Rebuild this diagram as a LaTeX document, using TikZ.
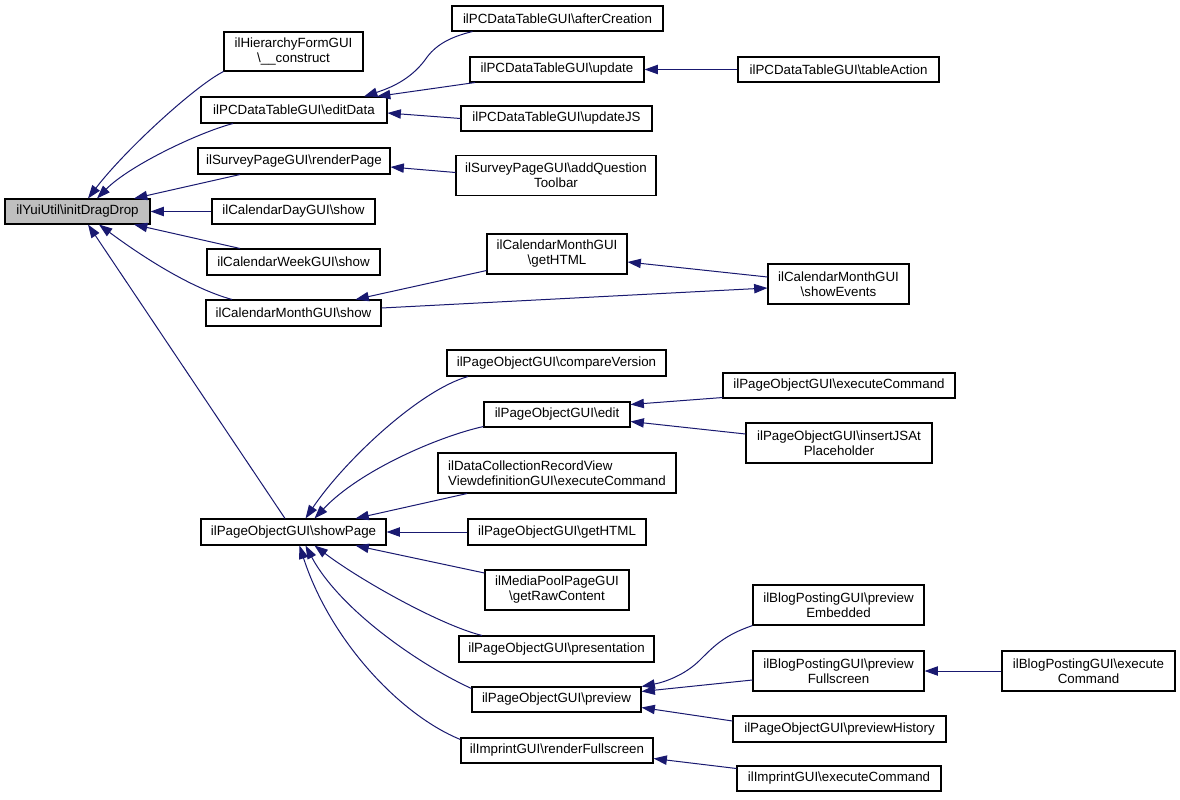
\documentclass[tikz,border=0pt]{standalone}
\usepackage{fontspec}
\setmainfont{Liberation Sans}
\usetikzlibrary{arrows.meta,calc}
\definecolor{edgec}{HTML}{191970}
\definecolor{rootfill}{HTML}{BFBFBF}
\begin{document}
\begin{tikzpicture}[x=0.75pt,y=-0.75pt,
  nbox/.style={draw=black, line width=0.8pt, fill=white, inner sep=0pt, align=center,
    font=\fontsize{10}{11.25}\selectfont},
  bw/.style={minimum width=#1*0.75pt},
  bh/.style={minimum height=#1*0.75pt},
  link/.style={draw=edgec, line width=0.75pt, -{Triangle[length=10pt,width=7pt]}}]
\fill[white] (0,0) rectangle (1180,799);
\useasboundingbox (0,0) rectangle (1180,799);

% column 0
\node[nbox,fill=rootfill,bw=145,bh=25] (root) at (77.5,211.5) {ilYuiUtil\textbackslash initDragDrop};
% column 1
\node[nbox,bw=139,bh=39] (hier) at (293.5,51.5) {ilHierarchyFormGUI\\\textbackslash\_\_construct};
\node[nbox,bw=186,bh=26] (editData) at (294,110) {ilPCDataTableGUI\textbackslash editData};
\node[nbox,bw=192,bh=26] (renderPage) at (294,161) {ilSurveyPageGUI\textbackslash renderPage};
\node[nbox,bw=163,bh=25] (calDay) at (293.5,211.5) {ilCalendarDayGUI\textbackslash show};
\node[nbox,bw=173,bh=26] (calWeek) at (293.5,262) {ilCalendarWeekGUI\textbackslash show};
\node[nbox,bw=175,bh=26] (calMonth) at (293.5,313) {ilCalendarMonthGUI\textbackslash show};
\node[nbox,bw=185,bh=26] (showPage) at (293.5,532) {ilPageObjectGUI\textbackslash showPage};
% column 2
\node[nbox,bw=211,bh=25] (afterCreation) at (557.5,18.5) {ilPCDataTableGUI\textbackslash afterCreation};
\node[nbox,bw=174,bh=25] (update) at (557,69.5) {ilPCDataTableGUI\textbackslash update};
\node[nbox,bw=191,bh=25] (updateJS) at (556.5,118.5) {ilPCDataTableGUI\textbackslash updateJS};
\node[nbox,bw=200,bh=40] (addQuestion) at (556,175.5) {ilSurveyPageGUI\textbackslash addQuestion\\Toolbar};
\node[nbox,bw=140,bh=40] (monthGetHTML) at (557,254) {ilCalendarMonthGUI\\\textbackslash getHTML};
\node[nbox,bw=219,bh=26] (compareVersion) at (556.5,363) {ilPageObjectGUI\textbackslash compareVersion};
\node[nbox,bw=146,bh=25] (edit) at (557,414.5) {ilPageObjectGUI\textbackslash edit};
\node[nbox,bw=238,bh=40,align=left] (dataColl) at (557,473) {ilDataCollectionRecordView\\ViewdefinitionGUI\textbackslash executeCommand};
\node[nbox,bw=178,bh=26] (getHTML) at (557,532) {ilPageObjectGUI\textbackslash getHTML};
\node[nbox,bw=144,bh=40] (mediaPool) at (557,590) {ilMediaPoolPageGUI\\\textbackslash getRawContent};
\node[nbox,bw=195,bh=26] (presentation) at (556.5,649) {ilPageObjectGUI\textbackslash presentation};
\node[nbox,bw=169,bh=25] (preview) at (556.5,699.5) {ilPageObjectGUI\textbackslash preview};
\node[nbox,bw=192,bh=25] (renderFull) at (557,750.5) {ilImprintGUI\textbackslash renderFullscreen};
% column 3
\node[nbox,bw=201,bh=25] (tableAction) at (838.5,69.5) {ilPCDataTableGUI\textbackslash tableAction};
\node[nbox,bw=141,bh=40] (showEvents) at (838.5,284) {ilCalendarMonthGUI\\\textbackslash showEvents};
\node[nbox,bw=232,bh=25] (pageExec) at (839,385.5) {ilPageObjectGUI\textbackslash executeCommand};
\node[nbox,bw=186,bh=40] (insertJS) at (839,443) {ilPageObjectGUI\textbackslash insertJSAt\\Placeholder};
\node[nbox,bw=171,bh=40] (prevEmb) at (838.5,605) {ilBlogPostingGUI\textbackslash preview\\Embedded};
\node[nbox,bw=171,bh=40] (prevFull) at (838.5,671) {ilBlogPostingGUI\textbackslash preview\\Fullscreen};
\node[nbox,bw=213,bh=26] (prevHist) at (839.5,729) {ilPageObjectGUI\textbackslash previewHistory};
\node[nbox,bw=204,bh=25] (imprintExec) at (839,778.5) {ilImprintGUI\textbackslash executeCommand};
% column 4
\node[nbox,bw=173,bh=40] (blogExec) at (1088.5,671) {ilBlogPostingGUI\textbackslash execute\\Command};

% edges into root
\draw[link] (hier.south west) .. controls (195,86) and (125,150) .. ($(root.north)+(10.5,0)$);
\draw[link] ($(editData.south)+(-61,0)$) .. controls (200,132) and (130,165) .. ($(root.north)+(19.5,0)$);
\draw[link] ($(renderPage.south)+(-54,0)$) -- ($(root.north)+(56.5,0)$);
\draw[link] (calDay.west) -- (root.east);
\draw[link] ($(calWeek.north)+(-53.5,0)$) -- ($(root.south)+(56.5,0)$);
\draw[link] ($(calMonth.north)+(-61.5,0)$) .. controls (190,288) and (140,255) .. ($(root.south)+(21.5,0)$);
\draw[link] ($(showPage.north)+(-8.5,0)$) -- ($(root.south)+(10.5,0)$);
% editData
\draw[link] ($(afterCreation.south)+(-85,0)$) .. controls (450,37) and (435,45) .. (425,60)
  .. controls (410,80) and (390,88) .. ($(editData.north)+(70,0)$);
\draw[link] ($(update.south)+(-82,0)$) -- ($(editData.north)+(83,0)$);
\draw[link] (updateJS.west) -- ($(editData.east)+(0,3)$);
\draw[link] (tableAction.west) -- (update.east);
% renderPage
\draw[link] ($(addQuestion.west)+(0,-3)$) -- ($(renderPage.east)+(0,6)$);
% calendar month
\draw[link] ($(monthGetHTML.south west)+(0,-4)$) -- ($(calMonth.north)+(62,0)$);
\draw[link] ($(calMonth.east)+(0,-5)$) -- ($(showEvents.west)+(0,4)$);
\draw[link] ($(showEvents.west)+(0,-7)$) -- ($(monthGetHTML.east)+(0,8)$);
% showPage
\draw[link] ($(compareVersion.south)+(-88.5,0)$) .. controls (420,390) and (345,460) .. ($(showPage.north)+(12,0)$);
\draw[link] ($(edit.south west)+(0,-1)$) .. controls (440,436) and (360,470) .. ($(showPage.north)+(21,0)$);
\draw[link] ($(dataColl.south)+(-90,0)$) -- ($(showPage.north)+(62,0)$);
\draw[link] (getHTML.west) -- (showPage.east);
\draw[link] ($(mediaPool.west)+(0,-17)$) -- ($(showPage.south)+(62,0)$);
\draw[link] ($(presentation.north)+(-74.5,0)$) .. controls (440,625) and (360,580) .. ($(showPage.south)+(21,0)$);
\draw[link] ($(preview.west)+(0,-11)$) .. controls (420,665) and (340,610) .. ($(showPage.south)+(12,0)$);
\draw[link] ($(renderFull.west)+(0,-11)$) .. controls (400,715) and (330,640) .. ($(showPage.south)+(6,0)$);
% edit
\draw[link] ($(pageExec.south west)+(0,-1)$) -- ($(edit.east)+(0,-10)$);
\draw[link] ($(insertJS.west)+(0,-9)$) -- ($(edit.east)+(0,7)$);
% preview
\draw[link] (prevEmb.south west) .. controls (725,635) and (715,645) .. (700,660)
  .. controls (685,675) and (665,682) .. ($(preview.east)+(0,-13)$);
\draw[link] ($(prevFull.west)+(0,9)$) -- ($(preview.east)+(0,-8)$);
\draw[link] ($(prevHist.west)+(0,-8)$) -- ($(preview.east)+(0,8)$);
\draw[link] (blogExec.west) -- (prevFull.east);
% renderFullscreen
\draw[link] ($(imprintExec.west)+(0,-10)$) -- ($(renderFull.east)+(0,8)$);
\end{tikzpicture}
\end{document}
